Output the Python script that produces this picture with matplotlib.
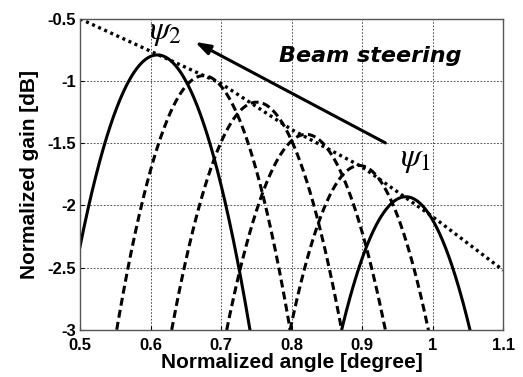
import matplotlib
matplotlib.use("Agg")
import matplotlib.pyplot as plt
import numpy as np

plt.rcParams["font.family"] = ["Liberation Sans", "DejaVu Sans"]
plt.rcParams["mathtext.fontset"] = "stix"

# envelope (scan loss)
env_angle = [0.5, 0.6, 0.7, 0.8, 0.9, 1.0, 1.1]
env_gain = [-0.5, -0.76, -1.02, -1.39, -1.69, -2.09, -2.52]

# each beam: left edge, peak, right edge (angle, gain)
beam_angle = [
    [0.500, 0.609, 0.741],
    [0.552, 0.680, 0.798],
    [0.630, 0.749, 0.871],
    [0.708, 0.817, 0.933],
    [0.798, 0.893, 0.994],
    [0.871, 0.961, 1.053],
]
beam_gain = [
    [-2.33, -0.79, -3.0],
    [-3.0, -0.96, -3.0],
    [-3.0, -1.17, -3.0],
    [-3.0, -1.43, -3.0],
    [-3.0, -1.68, -3.0],
    [-3.0, -1.93, -3.0],
]
beam_style = ["solid", "dashed", "dashed", "dashed", "dashed", "solid"]

x_ticks = [0.5, 0.6, 0.7, 0.8, 0.9, 1.0, 1.1]
x_labels = ["0.5", "0.6", "0.7", "0.8", "0.9", "1", "1.1"]
y_ticks = [-3, -2.5, -2, -1.5, -1, -0.5]
y_labels = ["-3", "-2.5", "-2", "-1.5", "-1", "-0.5"]

fig = plt.figure(figsize=(5.23, 3.77), dpi=100)
ax = fig.add_axes([0.153, 0.125, 0.809, 0.825])

for xs, ys, st in zip(beam_angle, beam_gain, beam_style):
    # smooth the beam through its read points (beam is parabolic in dB)
    c = np.polyfit(xs, ys, 2)
    xx = np.linspace(xs[0] - 0.02, xs[2] + 0.02, 300)
    ls = "-" if st == "solid" else (0, (2.6, 1.4))
    ax.plot(xx, np.polyval(c, xx), color="black", lw=2.2, linestyle=ls,
            solid_capstyle="butt", dash_capstyle="butt")

ax.plot(env_angle, env_gain, color="black", lw=2.4, linestyle=(0, (0.9, 1.1)),
        dash_capstyle="butt")

ax.annotate("", xy=(0.663, -0.685), xytext=(0.933, -1.497),
            arrowprops=dict(arrowstyle="-|>,head_length=0.9,head_width=0.3",
                            color="black", lw=2.2, shrinkA=0, shrinkB=0))
ax.text(0.598, -0.61, r"$\psi_2$", fontsize=24, va="center", ha="left")
ax.text(0.954, -1.63, r"$\psi_1$", fontsize=24, va="center", ha="left")
ax.text(0.911, -0.80, "Beam steering", fontsize=16, fontweight="bold",
        fontstyle="italic", family="DejaVu Sans", ha="center", va="center")

ax.set_xlim(0.5, 1.1)
ax.set_ylim(-3, -0.5)
ax.set_xticks(x_ticks)
ax.set_xticklabels(x_labels)
ax.set_yticks(y_ticks)
ax.set_yticklabels(y_labels)
ax.tick_params(direction="in", length=3, labelsize=12, pad=3)
ax.tick_params(axis="x", pad=6)
for lab in ax.get_xticklabels() + ax.get_yticklabels():
    lab.set_fontweight("bold")
ax.grid(True, color="black", linestyle=(0, (2, 2)), lw=0.6, alpha=0.8)
for sp in ax.spines.values():
    sp.set_color("#555555")
    sp.set_linewidth(1.0)

ax.set_xlabel("Normalized angle [degree]", fontsize=15, fontweight="bold", labelpad=0)
ax.set_ylabel("Normalized gain [dB]", fontsize=15, fontweight="bold", labelpad=6)

fig.savefig("out.png", dpi=100)
